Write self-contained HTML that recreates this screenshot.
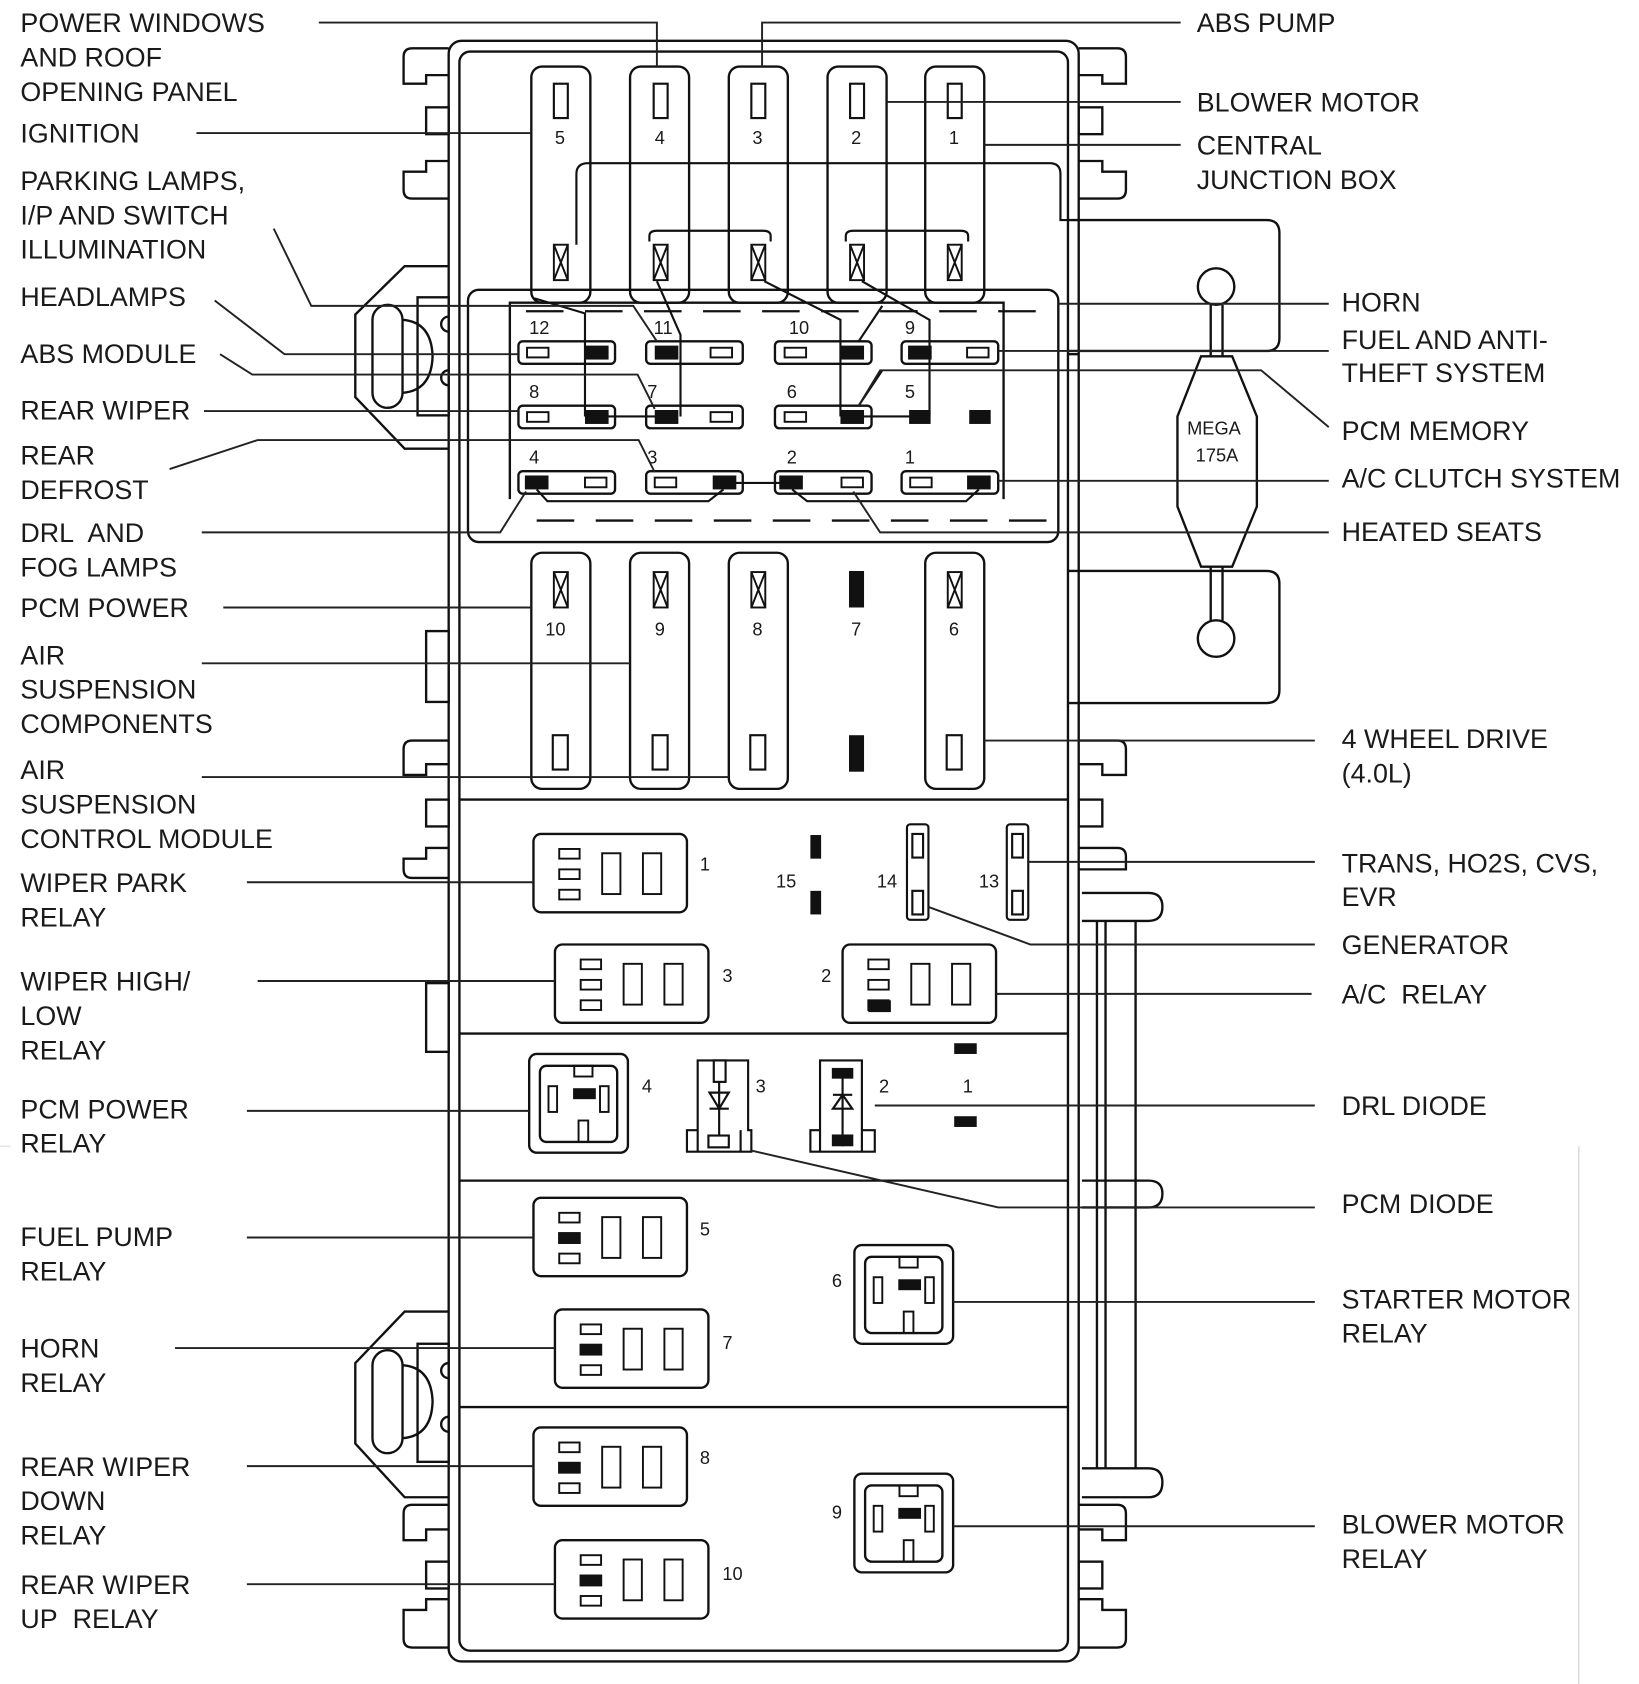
<!DOCTYPE html>
<html><head><meta charset="utf-8"><style>
html,body{margin:0;padding:0;background:#fff}
svg{display:block}
text{font-family:"Liberation Sans",sans-serif;fill:#1a1a1a}
.l{font-size:25px}
.n{font-size:17px}
</style></head><body>
<svg width="1639" height="1684" viewBox="0 0 1527 1569" xmlns="http://www.w3.org/2000/svg">
<defs>
<g id="relay" fill="none" stroke="#111" stroke-width="2.2">
<rect x="0" y="0" width="143" height="73" rx="7"/>
<rect x="24" y="14" width="19" height="9" stroke-width="1.8"/>
<rect x="24" y="33" width="19" height="9" stroke-width="1.8"/>
<rect x="24" y="52" width="19" height="9" stroke-width="1.8"/>
<rect x="64" y="18" width="17" height="38" stroke-width="1.8"/>
<rect x="102" y="18" width="17" height="38" stroke-width="1.8"/>
</g>
<g id="sq" fill="none" stroke="#111" stroke-width="2.2">
<rect x="0" y="0" width="92" height="92" rx="7"/>
<rect x="10" y="11" width="72" height="71" rx="6"/>
<rect x="42" y="11" width="17" height="10" stroke-width="1.8"/>
<rect x="18" y="30" width="8" height="24" stroke-width="1.8"/>
<rect x="66" y="30" width="8" height="24" stroke-width="1.8"/>
<rect x="42" y="33" width="19" height="8" fill="#111"/>
<rect x="46" y="62" width="9" height="20" stroke-width="1.8"/>
</g>
<g id="bigf" fill="none" stroke="#111" stroke-width="2.2">
<rect x="0" y="0" width="55" height="220" rx="10"/>
</g>
<g id="xbox" fill="none" stroke="#111" stroke-width="1.8">
<rect x="-6" y="0" width="13" height="33"/><path d="M-6 0 L7 33 M7 0 L-6 33"/>
</g>
<g id="sf" fill="none" stroke="#111" stroke-width="2.2">
<rect x="0" y="0" width="90" height="21" rx="4"/>
</g>
</defs>

<rect width="1527" height="1569" fill="#fff"/>
<line x1="1471" y1="1068" x2="1471" y2="1569" stroke="#ccc" stroke-width="1"/>
<line x1="0" y1="1068" x2="10" y2="1068" stroke="#ddd" stroke-width="1"/>

<g fill="none" stroke="#111" stroke-width="2.2">
<rect x="418" y="38" width="587" height="1510" rx="12"/>
<rect x="428" y="48" width="567" height="1490" rx="10"/>
<line x1="428" y1="745" x2="995" y2="745"/>
<line x1="428" y1="963" x2="995" y2="963"/>
<line x1="428" y1="1100" x2="995" y2="1100"/>
<line x1="428" y1="1311" x2="995" y2="1311"/>

<path d="M418 45 H384 Q376 45 376 53 V78 H397 V70 H418"/>
<rect x="397" y="100" width="21" height="25"/>
<path d="M418 150 H397 V160 H376 V177 Q376 185 384 185 H418"/>
<rect x="397" y="588" width="21" height="66"/>
<path d="M418 690 H384 Q376 690 376 698 V722 H397 V712 H418"/>
<rect x="397" y="745" width="21" height="25"/>
<path d="M418 790 H397 V800 H376 V810 Q376 818 384 818 H418"/>
<rect x="397" y="916" width="21" height="64"/>
<path d="M418 1402 H384 Q376 1402 376 1410 V1435 H397 V1425 H418"/>
<rect x="397" y="1455" width="21" height="25"/>
<path d="M418 1490 H397 V1500 H376 V1527 Q376 1535 384 1535 H418"/>
<path d="M1005 45 H1041 Q1049 45 1049 53 V78 H1027 V70 H1005"/>
<rect x="1005" y="100" width="22" height="25"/>
<path d="M1005 150 H1027 V160 H1049 V177 Q1049 185 1041 185 H1005"/>
<path d="M1005 690 H1041 Q1049 690 1049 698 V722 H1027 V712 H1005"/>
<rect x="1005" y="745" width="22" height="25"/>
<path d="M1005 790 H1041 Q1049 790 1049 798 V810 H1005"/>
<path d="M1005 1402 H1041 Q1049 1402 1049 1410 V1435 H1027 V1425 H1005"/>
<rect x="1005" y="1455" width="22" height="25"/>
<path d="M1005 1490 H1027 V1500 H1049 V1527 Q1049 1535 1041 1535 H1005"/>

<path d="M418 248 H377 L331 293 V370 L377 418 H418"/>
<rect x="347" y="284" width="28" height="96" rx="14"/>
<rect x="389" y="277" width="29" height="110"/>
<path d="M375 298 Q402 300 403 332 Q402 364 375 366"/>
<path d="M418 295 a7 7 0 0 0 0 14 M418 345 a7 7 0 0 0 0 14"/>
<path d="M418 1222 H377 L331 1270 V1345 L377 1395 H418"/>
<rect x="347" y="1258" width="28" height="96" rx="14"/>
<rect x="389" y="1252" width="29" height="110"/>
<path d="M375 1272 Q402 1274 403 1306 Q402 1338 375 1340"/>
<path d="M418 1270 a7 7 0 0 0 0 14 M418 1320 a7 7 0 0 0 0 14"/>

<path d="M995 205 H1180 Q1192 205 1192 217 V315 Q1192 327 1180 327 H995"/>
<path d="M995 532 H1180 Q1192 532 1192 544 V643 Q1192 655 1180 655 H995"/>
<line x1="995" y1="330" x2="1005" y2="330"/>
<circle cx="1133" cy="267" r="17"/>
<circle cx="1133" cy="595" r="17"/>
<path d="M1128 284 V332 M1139 284 V332 M1128 528 V578 M1139 528 V578"/>
<path d="M1119 332 H1148 L1171 388 V472 L1148 528 H1119 L1097 472 V388 Z"/>
<path d="M1008 832 H1070 Q1083 832 1083 845 Q1083 858 1070 858 H1008"/>
<path d="M1008 1100 H1070 Q1083 1100 1083 1112 Q1083 1125 1070 1125 H1008"/>
<path d="M1008 1368 H1070 Q1083 1368 1083 1381 Q1083 1395 1070 1395 H1008"/>
<path d="M1022 858 V1368 M1030 858 V1368 M1058 858 V1368"/>

<rect x="436" y="270" width="550" height="235" rx="10"/>
<path d="M475 465 V282 H935 V465"/>
<path d="M490 290 H985" stroke-dasharray="35,20"/>
<path d="M500 485 H985" stroke-dasharray="35,20"/>
</g>

<use href="#bigf" x="495" y="62"/><use href="#bigf" x="587" y="62"/><use href="#bigf" x="679" y="62"/><use href="#bigf" x="771" y="62"/><use href="#bigf" x="862" y="62"/>
<g fill="none" stroke="#111" stroke-width="2">
<rect x="516" y="78" width="13" height="32"/><rect x="609" y="78" width="13" height="32"/><rect x="700" y="78" width="13" height="32"/><rect x="792" y="78" width="13" height="32"/><rect x="883" y="78" width="13" height="32"/>
<path d="M605 225 V220 Q605 215 612 215 H711 Q718 215 718 220 V225"/>
<path d="M788 225 V220 Q788 215 795 215 H895 Q902 215 902 220 V225"/>
<path d="M537 228 V162 Q537 152 548 152 H978 Q988 152 988 162 V205 H995"/>
</g>
<use href="#xbox" x="522" y="228"/><use href="#xbox" x="615" y="228"/><use href="#xbox" x="706" y="228"/><use href="#xbox" x="798" y="228"/><use href="#xbox" x="889" y="228"/>
<g class="n"><text x="517" y="134">5</text><text x="610" y="134">4</text><text x="701" y="134">3</text><text x="793" y="134">2</text><text x="884" y="134">1</text></g>

<use href="#bigf" x="495" y="515"/><use href="#bigf" x="587" y="515"/><use href="#bigf" x="679" y="515"/><use href="#bigf" x="862" y="515"/>
<use href="#xbox" x="522" y="533"/><use href="#xbox" x="615" y="533"/><use href="#xbox" x="706" y="533"/><use href="#xbox" x="889" y="533"/>
<g fill="none" stroke="#111" stroke-width="2">
<rect x="515" y="685" width="14" height="32"/><rect x="608" y="685" width="14" height="32"/><rect x="699" y="685" width="14" height="32"/><rect x="882" y="685" width="14" height="32"/>
</g>
<rect x="791" y="532" width="14" height="34" fill="#111"/><rect x="791" y="685" width="14" height="34" fill="#111"/>
<g class="n"><text x="508" y="592">10</text><text x="610" y="592">9</text><text x="701" y="592">8</text><text x="793" y="592">7</text><text x="884" y="592">6</text></g>

<g>
<use href="#sf" x="483" y="318"/><use href="#sf" x="602" y="318"/><use href="#sf" x="722" y="318"/><use href="#sf" x="840" y="318"/>
<use href="#sf" x="483" y="378"/><use href="#sf" x="602" y="378"/><use href="#sf" x="722" y="378"/>
<use href="#sf" x="483" y="439"/><use href="#sf" x="602" y="439"/><use href="#sf" x="722" y="439"/><use href="#sf" x="840" y="439"/>
</g>
<g fill="none" stroke="#111" stroke-width="1.8">
<rect x="491" y="324" width="20" height="9"/><rect x="662" y="324" width="20" height="9"/><rect x="731" y="324" width="20" height="9"/><rect x="901" y="324" width="20" height="9"/>
<rect x="491" y="384" width="20" height="9"/><rect x="662" y="384" width="20" height="9"/><rect x="731" y="384" width="20" height="9"/>
<rect x="545" y="445" width="20" height="9"/><rect x="610" y="445" width="20" height="9"/><rect x="784" y="445" width="20" height="9"/><rect x="848" y="445" width="20" height="9"/>
</g>
<g fill="#111">
<rect x="545" y="322" width="22" height="13"/><rect x="610" y="322" width="22" height="13"/><rect x="783" y="322" width="22" height="13"/><rect x="846" y="322" width="22" height="13"/>
<rect x="545" y="382" width="22" height="13"/><rect x="610" y="382" width="22" height="13"/><rect x="783" y="382" width="22" height="13"/><rect x="847" y="382" width="20" height="13"/><rect x="903" y="382" width="20" height="13"/>
<rect x="489" y="443" width="22" height="13"/><rect x="664" y="443" width="22" height="13"/><rect x="726" y="443" width="22" height="13"/><rect x="901" y="443" width="22" height="13"/>
</g>
<g class="n"><text x="493" y="311">12</text><text x="609" y="311">11</text><text x="735" y="311">10</text><text x="843" y="311">9</text>
<text x="493" y="371">8</text><text x="603" y="371">7</text><text x="733" y="371">6</text><text x="843" y="371">5</text>
<text x="493" y="432">4</text><text x="603" y="432">3</text><text x="733" y="432">2</text><text x="843" y="432">1</text></g>
<g fill="none" stroke="#111" stroke-width="2">
<path d="M498 278 L545 292 V388"/>
<path d="M612 262 L634 312 V388"/>
<path d="M712 262 L783 298 V388"/>
<path d="M803 262 L866 298 V388"/>
<path d="M545 388 H622 M797 388 H858"/>
<path d="M675 450 H738"/>
<path d="M500 456 L510 467 H660 L674 456 M738 456 L752 467 H900 L912 456"/>
<path d="M800 318 L822 285 M800 378 L822 345"/>
</g>

<use href="#relay" x="497" y="777"/><use href="#relay" x="517" y="880"/><use href="#relay" x="785" y="880"/>
<use href="#relay" x="497" y="1116"/><use href="#relay" x="517" y="1220"/><use href="#relay" x="497" y="1330"/><use href="#relay" x="517" y="1435"/>
<g fill="#111">
<rect x="809" y="932" width="21" height="11"/>
<rect x="520" y="1148" width="21" height="11"/>
<rect x="540" y="1252" width="21" height="11"/>
<rect x="520" y="1362" width="21" height="11"/>
<rect x="540" y="1467" width="21" height="11"/>
<rect x="755" y="778" width="10" height="22"/><rect x="755" y="830" width="10" height="22"/>
<rect x="889" y="972" width="21" height="10"/><rect x="889" y="1040" width="21" height="10"/>
</g>
<use href="#sq" x="493" y="982"/><use href="#sq" x="796" y="1160"/><use href="#sq" x="796" y="1373"/>
<g fill="none" stroke="#111" stroke-width="2">
<rect x="845" y="768" width="20" height="89" rx="3"/><rect x="850" y="777" width="10" height="22"/><rect x="850" y="830" width="10" height="22"/>
<rect x="938" y="768" width="20" height="89" rx="3"/><rect x="943" y="777" width="10" height="22"/><rect x="943" y="830" width="10" height="22"/>
<path d="M640 1073 V1053 H650 V988 H697 V1053 H700 V1073 Z M650 1053 V1073 M690 1053 V1073"/>
<rect x="665" y="988" width="11" height="20"/><rect x="660" y="1058" width="19" height="11"/>
<path d="M670 1008 V1058 M661 1018 H679 L670 1033 Z M661 1033 H679"/>
<path d="M755 1073 V1053 H764 V988 H803 V1053 H815 V1073 Z M764 1053 V1073 M803 1053 V1073"/>
<path d="M785 1000 V1068 M776 1020 H794 M785 1020 L776 1033 H794 Z"/>
</g>
<g fill="#111"><rect x="775" y="995" width="20" height="10"/><rect x="775" y="1057" width="20" height="11"/></g>
<g class="n"><text x="652" y="811">1</text><text x="673" y="915">3</text><text x="765" y="915">2</text><text x="723" y="827">15</text><text x="817" y="827">14</text><text x="912" y="827">13</text>
<text x="598" y="1018">4</text><text x="704" y="1018">3</text><text x="819" y="1018">2</text><text x="897" y="1018">1</text>
<text x="652" y="1151">5</text><text x="775" y="1199">6</text><text x="673" y="1257">7</text><text x="652" y="1364">8</text><text x="775" y="1415">9</text><text x="673" y="1472">10</text></g>
<text x="1106" y="405" style="font-size:17px">MEGA</text><text x="1114" y="430" style="font-size:17px">175A</text>

<g fill="none" stroke="#222" stroke-width="1.8">
<path d="M297 21 H612 V62"/>
<path d="M183 124 H495"/>
<path d="M255 213 L290 285 H590 L612 318"/>
<path d="M200 280 L265 330 H483"/>
<path d="M205 330 L235 349 H594 L610 381"/>
<path d="M190 383 H483"/>
<path d="M158 437 L240 410 H595 L610 440"/>
<path d="M188 496 H466 L490 458"/>
<path d="M1100 21 H710 V62"/>
<path d="M1100 95 H826"/>
<path d="M1100 135 H917"/>
<path d="M1238 283 H986"/>
<path d="M1238 327 H930"/>
<path d="M1238 398 L1175 345 H820 L800 378"/>
<path d="M1238 448 H930"/>
<path d="M1238 496 H820 L795 458"/>
<path d="M208 566 H495"/>
<path d="M188 618 H587"/>
<path d="M188 724 H679"/>
<path d="M1225 690 H917"/>
<path d="M230 822 H497"/>
<path d="M1225 803 H958"/>
<path d="M1225 880 H960 L865 845"/>
<path d="M240 914 H517"/>
<path d="M1222 926 H928"/>
<path d="M230 1035 H493"/>
<path d="M1225 1030 H815"/>
<path d="M1225 1125 H930 L700 1072"/>
<path d="M230 1153 H497"/>
<path d="M1225 1213 H888"/>
<path d="M163 1256 H517"/>
<path d="M230 1366 H497"/>
<path d="M1225 1422 H888"/>
<path d="M230 1476 H517"/>
</g>

<g class="l">
<text x="19" y="30">POWER WINDOWS</text><text x="19" y="62">AND ROOF</text><text x="19" y="94">OPENING PANEL</text>
<text x="19" y="133">IGNITION</text>
<text x="19" y="177">PARKING LAMPS,</text><text x="19" y="209">I/P AND SWITCH</text><text x="19" y="241">ILLUMINATION</text>
<text x="19" y="285">HEADLAMPS</text>
<text x="19" y="338">ABS MODULE</text>
<text x="19" y="391">REAR WIPER</text>
<text x="19" y="433">REAR</text><text x="19" y="465">DEFROST</text>
<text x="19" y="505">DRL&#160; AND</text><text x="19" y="537">FOG LAMPS</text>
<text x="19" y="575">PCM POWER</text>
<text x="19" y="619">AIR</text><text x="19" y="651">SUSPENSION</text><text x="19" y="683">COMPONENTS</text>
<text x="19" y="726">AIR</text><text x="19" y="758">SUSPENSION</text><text x="19" y="790">CONTROL MODULE</text>
<text x="19" y="831">WIPER PARK</text><text x="19" y="863">RELAY</text>
<text x="19" y="923">WIPER HIGH/</text><text x="19" y="955">LOW</text><text x="19" y="987">RELAY</text>
<text x="19" y="1042">PCM POWER</text><text x="19" y="1074">RELAY</text>
<text x="19" y="1161">FUEL PUMP</text><text x="19" y="1193">RELAY</text>
<text x="19" y="1265">HORN</text><text x="19" y="1297">RELAY</text>
<text x="19" y="1375">REAR WIPER</text><text x="19" y="1407">DOWN</text><text x="19" y="1439">RELAY</text>
<text x="19" y="1485">REAR WIPER</text><text x="19" y="1517">UP&#160; RELAY</text>

<text x="1115" y="30">ABS PUMP</text>
<text x="1115" y="104">BLOWER MOTOR</text>
<text x="1115" y="144">CENTRAL</text><text x="1115" y="176">JUNCTION BOX</text>
<text x="1250" y="290">HORN</text>
<text x="1250" y="325">FUEL AND ANTI-</text><text x="1250" y="356">THEFT SYSTEM</text>
<text x="1250" y="410">PCM MEMORY</text>
<text x="1250" y="454">A/C CLUTCH SYSTEM</text>
<text x="1250" y="504">HEATED SEATS</text>
<text x="1250" y="697">4 WHEEL DRIVE</text><text x="1250" y="729">(4.0L)</text>
<text x="1250" y="813">TRANS, HO2S, CVS,</text><text x="1250" y="844">EVR</text>
<text x="1250" y="889">GENERATOR</text>
<text x="1250" y="935">A/C&#160; RELAY</text>
<text x="1250" y="1039">DRL DIODE</text>
<text x="1250" y="1130">PCM DIODE</text>
<text x="1250" y="1219">STARTER MOTOR</text><text x="1250" y="1251">RELAY</text>
<text x="1250" y="1429">BLOWER MOTOR</text><text x="1250" y="1461">RELAY</text>
</g>
</svg>
</body></html>
